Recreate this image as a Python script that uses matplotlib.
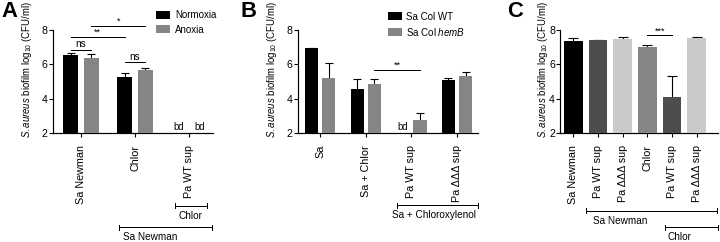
import numpy as np
import matplotlib
matplotlib.use("Agg")
import matplotlib.pyplot as plt
import matplotlib.transforms as mtransforms

plt.rcParams['font.family'] = ['Liberation Sans', 'DejaVu Sans']
plt.rcParams['mathtext.fontset'] = 'custom'
plt.rcParams['mathtext.rm'] = 'Liberation Sans'
plt.rcParams['mathtext.it'] = 'Liberation Sans:italic'

# ---- data (log10 CFU/ml, NaN = below detection) ----
a_groups = ["Sa Newman", "Chlor", "Pa WT sup"]
a_norm = [6.57, 5.26, np.nan]
a_norm_err = [0.08, 0.22, np.nan]
a_anox = [6.38, 5.65, np.nan]
a_anox_err = [0.20, 0.16, np.nan]

b_groups = ["Sa", "Sa + Chlor", "Pa WT sup", "Pa \u0394\u0394\u0394 sup"]
b_wt = [6.98, 4.58, np.nan, 5.10]
b_wt_err = [0.0, 0.58, np.nan, 0.12]
b_hemb = [5.22, 4.83, 2.74, 5.31]
b_hemb_err = [0.86, 0.29, 0.45, 0.27]

c_labels = ["Sa Newman", "Pa WT sup", "Pa \u0394\u0394\u0394 sup",
            "Chlor", "Pa WT sup", "Pa \u0394\u0394\u0394 sup"]
c_vals = [7.38, 7.42, 7.48, 6.99, 4.08, 7.55]
c_err = [0.18, 0.02, 0.09, 0.16, 1.26, 0.05]
c_colors = ["black", "#4d4d4d", "#cacaca", "#858585", "#4d4d4d", "#cacaca"]

YLABEL = r"$\it{S.aureus}$ biofilm log$_{10}$ (CFU/ml)"
BASE = 2
W, H = 720, 242
GRAY = "#858585"

fig = plt.figure(figsize=(W / 72, H / 72), dpi=72)


def px_axes(left, right, top=30, bottom=133):
    return fig.add_axes([left / W, 1 - bottom / H, (right - left) / W, (bottom - top) / H])


def style(ax, labels, xlim):
    ax.set_ylim(2, 8)
    ax.set_yticks([2, 4, 6, 8])
    ax.set_xlim(*xlim)
    ax.set_xticks(range(len(labels)))
    ax.set_xticklabels(labels, rotation=90)
    ax.tick_params(axis="both", direction="out", length=4, width=1.1, labelsize=10.5, pad=2)
    ax.tick_params(axis="x", labelsize=10.8, pad=8)
    for s in ("top", "right"):
        ax.spines[s].set_visible(False)
    for s in ("left", "bottom"):
        ax.spines[s].set_linewidth(1.2)


def bars(ax, x, vals, errs, color, width, capsize=4):
    vals = np.asarray(vals, float)
    errs = np.asarray(errs, float)
    ok = ~np.isnan(vals)
    x = np.asarray(x, float)
    h = ax.bar(x[ok], vals[ok] - BASE, bottom=BASE, width=width, color=color, zorder=3)
    e = np.where(np.isnan(errs), 0, errs)[ok]
    ax.errorbar(x[ok], vals[ok], yerr=e, fmt="none", ecolor="black",
                elinewidth=1.1, capsize=capsize, capthick=1.1, zorder=2)
    for xi in x[~ok]:
        ax.text(xi, 2.05, "bd", ha="center", va="bottom", fontsize=9.5)
    return h


def sig(ax, x1, x2, y, label, dy=0.06, fs=9):
    ax.plot([x1, x2], [y, y], color="black", lw=1, clip_on=False)
    ax.text((x1 + x2) / 2, y + dy, label, ha="center", va="bottom", fontsize=fs)


def bracket(ax, x1, x2, ypx, label, tx, typx, ha="left"):
    tr = mtransforms.blended_transform_factory(ax.transData, fig.transFigure)
    y = 1 - ypx / H
    d = 2.5 / H
    kw = dict(color="black", lw=1, transform=tr, clip_on=False)
    ax.plot([x1, x2], [y, y], **kw)
    ax.plot([x1, x1], [y - d, y + d], **kw)
    ax.plot([x2, x2], [y - d, y + d], **kw)
    ax.text(tx, 1 - typx / H, label, ha=ha, va="center", fontsize=10, transform=tr)


def ylab(ax, xpx, ax_left):
    # xpx = right edge of the rotated label, in figure pixels
    ax.set_ylabel(YLABEL, fontsize=9.6)
    ax.yaxis.set_label_coords((xpx - ax_left) / (ax.get_position().width * W), (133 - 69) / 103)


# ---- Panel A ----
axA = px_axes(53.3, 213)
xa = np.arange(len(a_groups))
hN = bars(axA, xa - 0.19, a_norm, a_norm_err, "black", 0.28)
hA = bars(axA, xa + 0.19, a_anox, a_anox_err, GRAY, 0.28)
style(axA, a_groups, (-0.51, 2.44))
ylab(axA, 34, 53.3)
sig(axA, -0.19, 0.19, 6.86, "ns", dy=0.02, fs=10)
sig(axA, 0.81, 1.19, 6.14, "ns", dy=0.02, fs=10)
sig(axA, -0.19, 0.81, 7.61, "**", dy=0.02)
sig(axA, 0.19, 1.19, 8.25, "*", dy=0.02)
axA.legend([hN, hA], ["Normoxia", "Anoxia"], loc="upper left",
           bbox_to_anchor=(156 / W, 1 - 10.5 / H), bbox_transform=fig.transFigure,
           frameon=False, fontsize=9.7, handlelength=1.45, handleheight=0.9,
           handletextpad=0.5, labelspacing=0.42, borderpad=0, borderaxespad=0)
bracket(axA, 1.74, 2.32, 205.7, "Chlor", 2.02, 216, ha="center")
bracket(axA, 0.70, 2.43, 227.3, "Sa Newman", 0.77, 236.5)
fig.text(1 / W, 1 - 1 / H, "A", fontsize=22, fontweight="bold", va="top", ha="left")

# ---- Panel B ----
axB = px_axes(298.3, 478)
xb = np.arange(len(b_groups))
hW = bars(axB, xb - 0.19, b_wt, b_wt_err, "black", 0.29)
hH = bars(axB, xb + 0.19, b_hemb, b_hemb_err, GRAY, 0.29)
style(axB, b_groups, (-0.48, 3.46))
ylab(axB, 279, 298.3)
sig(axB, 1.19, 2.19, 5.65, "**", dy=0.02)
axB.legend([hW, hH], ["Sa Col WT", r"Sa Col $\it{hemB}$"], loc="upper left",
           bbox_to_anchor=(388 / W, 1 - 11.5 / H), bbox_transform=fig.transFigure,
           frameon=False, fontsize=9.7, handlelength=1.45, handleheight=0.9,
           handletextpad=0.4, labelspacing=0.42, borderpad=0, borderaxespad=0)
bracket(axB, 1.69, 3.46, 205, "Sa + Chloroxylenol", 1.57, 215)
fig.text(240 / W, 1 - 1 / H, "B", fontsize=22, fontweight="bold", va="top", ha="left")

# ---- Panel C ----
axC = px_axes(560, 718.3)
xc = np.arange(len(c_labels))
bars(axC, xc, c_vals, c_err, c_colors, 0.76, capsize=5)
style(axC, c_labels, (-0.54, 5.88))
ylab(axC, 550, 560)
axC.tick_params(axis="y", pad=1)
sig(axC, 3, 4, 7.69, "***", dy=0.0)
bracket(axC, 0.51, 5.81, 210.7, "Sa Newman", 0.81, 220.5)
bracket(axC, 3.72, 5.88, 227.3, "Chlor", 3.84, 237)
fig.text(507 / W, 1 - 1 / H, "C", fontsize=22, fontweight="bold", va="top", ha="left")

fig.savefig("out.png", dpi=72)
